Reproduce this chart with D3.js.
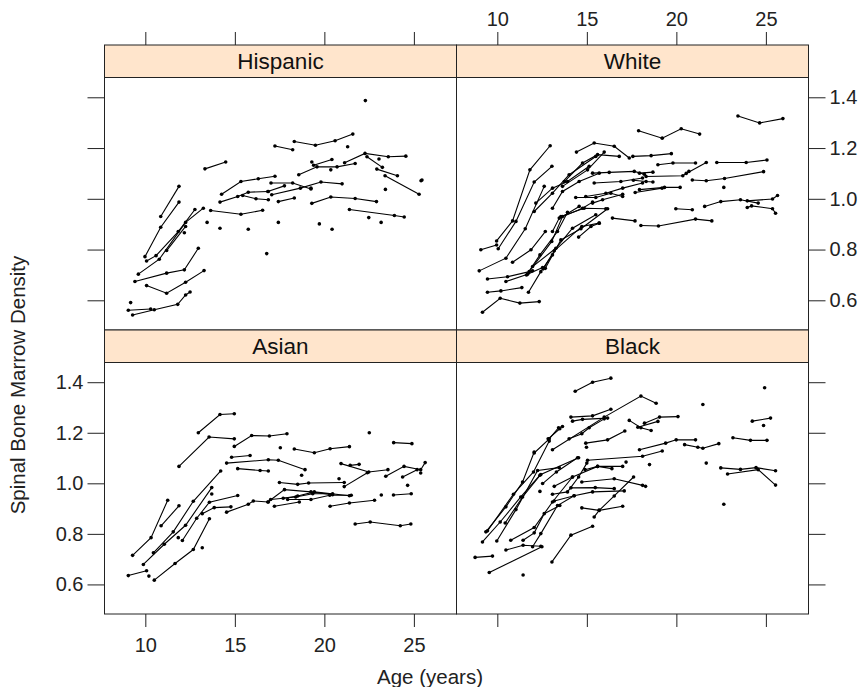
<!DOCTYPE html>
<html><head><meta charset="utf-8">
<script src="https://cdn.jsdelivr.net/npm/d3@7"></script>
<style>body{margin:0;background:#fff}svg{display:block;font-family:"Liberation Sans",Arial,Helvetica,sans-serif}</style>
</head><body><svg id="c" width="860" height="687"></svg>
<script>
const ageTicks = [10, 15, 20, 25];
const bmdTicks = [0.6, 0.8, 1.0, 1.2, 1.4];
const panelNames = ["Hispanic", "White", "Asian", "Black"];
const xLabel = "Age (years)";
const yLabel = "Spinal Bone Marrow Density";

const hispanic = [
 [[13.33,1.118],[14.49,1.145]],
 [[10.86,0.930],[11.88,1.049]],
 [[9.98,0.772],[10.86,0.888],[11.88,0.987]],
 [[10.07,0.755],[10.60,0.776],[11.84,0.871],[12.77,0.958]],
 [[9.61,0.703],[10.78,0.762],[12.25,0.907],[13.24,0.963]],
 [[11.19,0.796],[12.25,0.891]],
 [[12.18,0.866]],
 [[13.45,0.907]],
 [[14.17,0.884]],
 [[15.75,0.880]],
 [[16.78,0.784]],
 [[9.42,0.674],[11.19,0.707],[12.18,0.720],[12.96,0.805]],
 [[10.07,0.658],[11.19,0.628],[12.25,0.671],[13.28,0.717]],
 [[9.18,0.591]],
 [[9.05,0.561],[10.30,0.566]],
 [[9.29,0.542],[10.50,0.563],[11.81,0.584],[12.25,0.621],[12.50,0.633]],
 [[13.65,0.954],[15.34,0.939],[16.55,0.955]],
 [[14.26,1.018],[15.34,1.068],[16.31,1.079],[17.24,1.089]],
 [[14.17,0.987],[15.16,1.009],[15.75,1.026],[16.87,1.029]],
 [[15.44,1.013],[16.18,1.000],[16.87,0.996]],
 [[22.29,1.387]],
 [[17.24,1.208],[18.23,1.193]],
 [[18.32,1.226],[19.50,1.211],[20.60,1.229],[21.59,1.255]],
 [[21.30,1.205]],
 [[19.40,1.132],[20.42,1.155]],
 [[19.30,1.145]],
 [[18.57,1.095],[19.59,1.126],[20.71,1.126],[21.72,1.139]],
 [[20.36,1.114]],
 [[21.13,1.142],[22.27,1.179],[23.57,1.166],[24.55,1.168]],
 [[22.38,1.166],[23.24,1.124]],
 [[23.05,1.157]],
 [[22.93,1.117],[24.08,1.091]],
 [[23.39,1.091],[25.29,1.018]],
 [[25.40,1.071],[25.45,1.074]],
 [[23.41,1.037]],
 [[17.02,1.062],[18.23,1.062],[19.25,1.039]],
 [[16.84,1.029],[17.77,1.051]],
 [[17.06,1.016],[18.66,1.042],[19.81,1.066],[20.99,1.059]],
 [[19.25,1.042]],
 [[17.43,0.989],[18.32,1.003]],
 [[19.30,0.982],[20.36,1.007],[21.72,1.001],[22.91,0.989]],
 [[21.40,0.958],[23.91,0.934],[24.46,0.928]],
 [[22.48,0.926]],
 [[23.17,0.907]],
 [[17.43,0.907]],
 [[19.72,0.901]],
 [[20.43,0.880]]
];

const white = [
 [[9.96,0.834],[10.85,0.913],[11.82,1.114],[12.95,1.209]],
 [[10.05,0.803],[11.04,0.911],[12.06,1.066],[13.05,1.128]],
 [[9.08,0.799],[9.96,0.818]],
 [[8.99,0.716],[10.48,0.766],[11.56,0.882],[12.62,1.049]],
 [[10.85,0.750],[11.88,0.799],[12.68,0.871]],
 [[9.45,0.684],[10.57,0.693],[11.97,0.716]],
 [[9.45,0.632],[10.20,0.637],[11.37,0.650]],
 [[9.17,0.553],[10.16,0.608],[11.26,0.589],[12.34,0.595]],
 [[10.48,0.674],[11.69,0.703],[12.53,0.729]],
 [[11.74,0.632],[12.43,0.713],[13.08,0.779]],
 [[11.63,0.700],[12.38,0.779],[13.36,0.871],[13.92,0.947]],
 [[11.78,0.713],[13.04,0.832],[13.64,0.930],[14.57,0.970]],
 [[11.97,0.733],[13.27,0.805],[14.20,0.884],[15.50,0.937]],
 [[12.56,0.724],[13.18,0.795],[14.72,0.891],[15.69,0.904]],
 [[12.68,0.726],[13.55,0.838],[14.67,0.882],[16.16,0.961]],
 [[12.06,0.950],[13.08,1.022],[14.01,1.095],[15.50,1.167]],
 [[12.15,0.983],[13.08,1.042],[13.92,1.068],[15.13,1.128]],
 [[13.08,0.963],[13.64,1.029],[14.57,1.068],[15.69,1.101]],
 [[14.42,1.184],[15.41,1.220],[16.53,1.207],[17.37,1.161]],
 [[13.74,1.068],[14.76,1.141],[15.60,1.174],[16.81,1.167]],
 [[13.64,1.049],[15.04,1.114],[15.97,1.184]],
 [[15.32,1.101],[16.25,1.104],[17.65,1.108],[18.21,1.097]],
 [[15.41,1.062],[16.90,1.068],[18.11,1.082]],
 [[14.94,1.009],[16.06,1.022],[17.00,1.042],[18.11,1.062]],
 [[14.38,1.005],[15.50,1.005],[16.34,1.022],[17.00,1.009]],
 [[15.32,0.983],[15.88,0.996],[17.00,1.018]],
 [[13.55,0.930],[14.85,0.963],[16.06,0.961]],
 [[14.54,0.849],[15.23,0.891],[15.69,0.904]],
 [[16.43,0.924],[17.69,0.913]],
 [[13.08,0.871],[13.46,0.924],[14.76,0.963],[15.32,0.987]],
 [[17.89,1.268],[19.21,1.239],[20.27,1.276],[21.30,1.255]],
 [[23.44,1.326],[24.65,1.299],[25.95,1.316]],
 [[17.57,1.167],[18.59,1.170],[19.72,1.178]],
 [[18.97,1.134],[19.81,1.141],[21.07,1.141]],
 [[17.94,1.101],[18.69,1.105]],
 [[20.55,1.100],[21.67,1.143]],
 [[22.26,1.143],[23.90,1.143],[25.06,1.153]],
 [[18.31,1.088],[20.36,1.091],[20.70,1.108]],
 [[20.89,1.074],[21.67,1.071],[22.69,1.080],[24.87,1.107]],
 [[17.94,1.036],[19.34,1.045],[20.21,1.045]],
 [[22.65,1.045]],
 [[19.97,0.961],[20.89,0.957]],
 [[21.58,0.970],[22.48,0.989],[23.58,0.996],[24.57,0.983]],
 [[23.96,0.992],[25.37,0.999],[25.65,1.013]],
 [[23.96,0.966],[24.20,0.972],[25.37,0.961],[25.54,0.943]],
 [[18.02,0.895],[19.00,0.893],[21.07,0.920],[21.98,0.913]],
 [[17.60,1.073],[18.31,1.068],[18.69,1.066]],
 [[17.70,1.025],[19.20,1.042]]
];

const asian = [
 [[12.96,1.200],[14.17,1.272],[14.97,1.275]],
 [[11.88,1.067],[13.56,1.183],[14.97,1.176]],
 [[14.97,1.146],[15.94,1.189],[16.93,1.187],[17.91,1.196]],
 [[14.54,1.080],[16.87,1.093],[17.43,1.091],[18.92,1.054]],
 [[15.16,1.058],[16.41,1.051],[16.87,1.049]],
 [[9.29,0.715],[10.32,0.785],[11.25,0.933]],
 [[10.88,0.832],[11.88,0.911]],
 [[9.89,0.679],[11.06,0.759],[12.25,0.834],[13.71,0.983]],
 [[10.45,0.725],[11.56,0.808],[12.68,0.929],[14.21,1.049]],
 [[12.07,0.774],[12.87,0.862],[13.58,0.925],[15.16,0.952]],
 [[11.84,0.785]],
 [[13.18,0.880],[13.85,0.904],[14.78,0.907]],
 [[14.54,0.886],[15.75,0.917],[16.03,0.930],[16.87,0.926]],
 [[13.18,0.745]],
 [[13.71,0.958]],
 [[9.05,0.635],[10.07,0.654]],
 [[10.20,0.633]],
 [[10.50,0.617],[11.66,0.683],[12.68,0.738],[13.58,0.860]],
 [[14.82,1.103],[15.85,1.110]],
 [[22.51,1.200]],
 [[23.87,1.161],[24.89,1.157]],
 [[17.54,1.141]],
 [[18.32,1.136],[19.44,1.121],[20.32,1.137],[21.40,1.145]],
 [[20.93,1.078],[22.48,1.045],[23.55,1.054]],
 [[21.44,1.071],[21.94,1.075]],
 [[23.43,1.028],[24.45,1.067],[25.38,1.054],[25.63,1.082]],
 [[24.37,1.025],[25.18,1.054]],
 [[25.38,1.041]],
 [[24.65,0.992]],
 [[18.73,1.032]],
 [[20.82,1.018]],
 [[17.49,1.003],[18.51,0.996],[19.12,1.001],[21.11,1.003]],
 [[21.11,0.987],[22.40,1.042]],
 [[16.84,0.926],[17.77,0.975],[19.25,0.966],[20.46,0.955]],
 [[17.00,0.936],[18.40,0.946],[19.35,0.959],[20.46,0.959]],
 [[17.70,0.941],[18.51,0.950],[19.44,0.966],[21.40,0.951]],
 [[17.95,0.936],[19.25,0.936],[20.30,0.953],[21.50,0.953]],
 [[17.21,0.909],[18.60,0.926]],
 [[23.18,0.954]],
 [[23.86,0.954],[24.85,0.959]],
 [[20.32,0.909],[21.40,0.922],[22.80,0.933]],
 [[21.72,0.839],[22.56,0.847],[24.24,0.832],[24.83,0.839]]
];

const black = [
 [[14.35,1.364],[15.32,1.400],[16.34,1.416]],
 [[14.11,1.262],[15.32,1.267],[16.34,1.293]],
 [[14.20,1.246],[14.76,1.253],[16.16,1.258]],
 [[13.08,1.133],[15.97,1.262],[18.02,1.345],[18.87,1.317]],
 [[12.06,1.120],[12.90,1.176],[13.42,1.220],[13.64,1.225]],
 [[14.01,1.176],[14.72,1.196],[15.13,1.220],[15.97,1.255]],
 [[14.94,1.159],[16.16,1.172],[17.12,1.207]],
 [[14.98,1.143]],
 [[17.37,1.249],[18.02,1.220],[18.59,1.209]],
 [[18.22,1.238],[19.06,1.262],[20.09,1.264]],
 [[17.85,1.222],[18.97,1.245]],
 [[9.36,0.808],[10.48,0.907],[11.41,1.005],[12.06,1.124]],
 [[9.45,0.812],[10.90,0.957],[12.02,1.045],[12.90,1.167]],
 [[9.17,0.768],[10.16,0.847],[11.31,0.946],[12.38,1.032]],
 [[9.97,0.772],[11.04,0.896],[12.25,1.051],[13.46,1.062]],
 [[10.44,0.843],[11.41,0.946],[12.43,1.035],[14.54,1.101]],
 [[10.75,0.775],[12.06,0.825],[13.08,0.926],[14.20,1.025]],
 [[11.44,0.775],[12.06,0.804],[12.62,0.880],[13.49,0.912]],
 [[11.97,0.749],[12.43,0.801],[13.36,0.912],[14.29,0.951]],
 [[10.48,0.736],[11.44,0.755],[12.43,0.751]],
 [[8.76,0.707],[9.73,0.712]],
 [[9.55,0.647],[12.49,0.749]],
 [[11.44,0.637]],
 [[13.05,0.689],[14.11,0.795],[15.32,0.830]],
 [[15.41,0.867],[15.69,0.893],[16.53,0.950],[17.61,1.025]],
 [[14.72,0.903],[15.69,0.893],[17.00,0.909]],
 [[13.18,0.930],[14.29,0.951],[15.32,0.966],[17.09,0.970]],
 [[14.11,0.982],[15.47,0.983],[16.53,0.979]],
 [[13.08,0.957],[13.92,0.966],[14.54,1.025],[15.00,1.080]],
 [[13.18,0.988],[14.20,1.025],[15.60,1.067],[16.40,1.058]],
 [[14.72,1.005],[16.53,1.018],[18.11,0.992],[18.28,0.988]],
 [[14.90,1.054],[15.60,1.067],[17.00,1.067]],
 [[15.04,1.091],[18.11,1.107],[19.21,1.128]],
 [[12.38,0.968]],
 [[12.53,0.999],[13.30,1.045],[14.48,1.101]],
 [[12.84,1.176],[13.49,1.216]],
 [[17.19,1.084]],
 [[24.93,1.378]],
 [[21.48,1.312]],
 [[24.24,1.246],[25.26,1.258]],
 [[24.87,1.229]],
 [[23.16,1.180],[24.14,1.170],[25.06,1.170]],
 [[17.94,1.133],[19.40,1.159],[19.99,1.172],[21.07,1.172]],
 [[20.46,1.153],[21.20,1.143],[21.48,1.139],[22.37,1.157]],
 [[18.50,1.074]],
 [[21.67,1.080]],
 [[22.48,1.061],[23.58,1.055],[24.45,1.062],[25.54,1.050]],
 [[22.86,1.037],[24.57,1.054],[25.54,0.993]],
 [[22.65,0.917]]
];

const panelData = [hispanic, white, asian, black];

// layout
const L = 104.5, M = 456.5, R = 808.5;
const stripH = 32.5;
const rows = [{top: 45, pTop: 77.5, pBot: 330}, {top: 330, pTop: 362.5, pBot: 614}];
const cols = [{l: L, r: M}, {l: M, r: R}];
const xDomain = [7.72, 27.38];
const yDomain = [0.483, 1.478];
const ink = "#222";
const tickLen = 13, yTickLen = 17;
const fTick = 20, fStrip = 22.5, fLab = 20.5;

const svg = d3.select("#c");
svg.append("rect").attr("width", 860).attr("height", 687).attr("fill", "#fff");

const fmt = d3.format(".1f");

panelNames.forEach((name, i) => {
  const row = rows[Math.floor(i / 2)], col = cols[i % 2];
  const ri = Math.floor(i / 2), ci = i % 2;
  const x = d3.scaleLinear().domain(xDomain).range([col.l, col.r]);
  const y = d3.scaleLinear().domain(yDomain).range([row.pBot, row.pTop]);
  const g = svg.append("g");
  const clipId = "clip" + i;
  g.append("clipPath").attr("id", clipId).append("rect")
    .attr("x", col.l).attr("y", row.pTop).attr("width", col.r - col.l).attr("height", row.pBot - row.pTop);

  // strip
  g.append("rect").attr("x", col.l).attr("y", row.top).attr("width", col.r - col.l).attr("height", stripH)
    .attr("fill", "#ffe5cc").attr("stroke", ink).attr("stroke-width", 1);
  g.append("text").attr("x", (col.l + col.r) / 2).attr("y", row.top + stripH / 2 + 8)
    .attr("text-anchor", "middle").attr("font-size", fStrip).attr("fill", "#111").text(name);

  // data
  const line = d3.line().x(d => x(d[0])).y(d => y(d[1]));
  const dg = g.append("g").attr("clip-path", `url(#${clipId})`);
  panelData[i].forEach(subj => {
    if (subj.length > 1) dg.append("path").attr("d", line(subj)).attr("fill", "none").attr("stroke", "#000").attr("stroke-width", 1.1);
    subj.forEach(p => dg.append("circle").attr("cx", x(p[0])).attr("cy", y(p[1])).attr("r", 1.8).attr("fill", "#000"));
  });

  // panel border
  g.append("rect").attr("x", col.l).attr("y", row.pTop).attr("width", col.r - col.l).attr("height", row.pBot - row.pTop)
    .attr("fill", "none").attr("stroke", ink).attr("stroke-width", 1);

  // y ticks
  if (ci === 0) {
    const ax = d3.axisLeft(y).tickValues(bmdTicks).tickSize(yTickLen).tickPadding(4)
      .tickFormat(ri === 1 ? fmt : () => "");
    const a = svg.append("g").attr("transform", `translate(${col.l},0)`).call(ax);
    styleAxis(a);
  } else {
    const ax = d3.axisRight(y).tickValues(bmdTicks).tickSize(yTickLen).tickPadding(4)
      .tickFormat(ri === 0 ? fmt : () => "");
    const a = svg.append("g").attr("transform", `translate(${col.r},0)`).call(ax);
    styleAxis(a);
  }
  // x ticks
  if (ri === 0) {
    const ax = d3.axisTop(x).tickValues(ageTicks).tickSize(tickLen).tickPadding(6)
      .tickFormat(ci === 1 ? d3.format("d") : () => "");
    const a = svg.append("g").attr("transform", `translate(0,${row.top})`).call(ax);
    styleAxis(a);
  } else {
    const ax = d3.axisBottom(x).tickValues(ageTicks).tickSize(tickLen).tickPadding(11)
      .tickFormat(ci === 0 ? d3.format("d") : () => "");
    const a = svg.append("g").attr("transform", `translate(0,${row.pBot})`).call(ax);
    styleAxis(a);
  }
});

function styleAxis(a) {
  a.select(".domain").remove();
  a.selectAll(".tick line").attr("stroke", ink).attr("stroke-width", 1);
  a.selectAll(".tick text").attr("font-size", fTick).attr("fill", "#222")
    .attr("font-family", '"Liberation Sans",Arial,Helvetica,sans-serif');
}

svg.append("text").attr("x", 430).attr("y", 684).attr("text-anchor", "middle")
  .attr("font-size", fLab).attr("fill", "#222").text(xLabel);
svg.append("text").attr("transform", "translate(25,385) rotate(-90)").attr("text-anchor", "middle")
  .attr("font-size", fLab).attr("fill", "#222").text(yLabel);
</script></body></html>
